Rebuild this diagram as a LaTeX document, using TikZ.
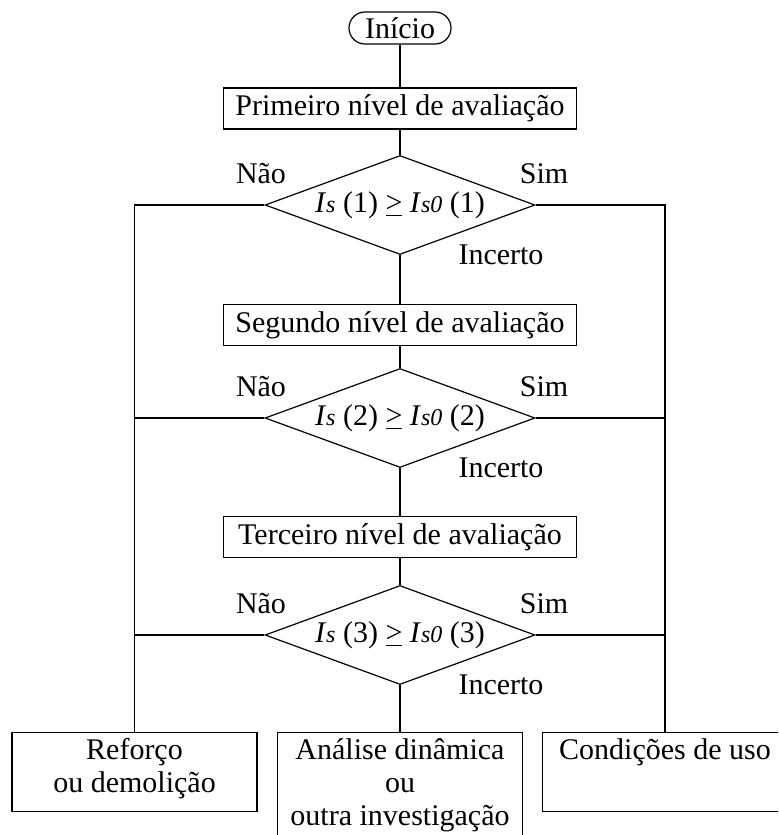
\documentclass[tikz,border=0pt]{standalone}
\usepackage{fontspec}
\setmainfont{Liberation Serif}
\usetikzlibrary{shapes.geometric,positioning}

\newcommand{\smallit}[1]{{\fontsize{12}{12}\selectfont\itshape #1}}
\newcommand{\cond}[1]{\textit{I}\smallit{s}\ (#1)\ \underline{>}\ \textit{I}\smallit{s0}\ (#1)}
\newcommand{\topbox}[2]{\parbox[t][#1][t]{116.5pt}{\centering #2}}

\tikzset{
  base/.style={draw, line width=0.6pt, font=\fontsize{15}{16.5}\selectfont},
  startbox/.style={base, rounded corners=8pt, minimum width=51pt,
    minimum height=16pt, inner sep=0pt},
  levelbox/.style={base, minimum width=176.5pt, minimum height=20.5pt, inner sep=0pt},
  decision/.style={base, diamond, aspect=2.7, minimum width=135pt,
    minimum height=49.5pt, inner sep=0pt},
  endbox/.style={base, anchor=north, inner sep=3pt},
  answer/.style={font=\fontsize{15}{16.5}\selectfont, inner sep=0pt},
  link/.style={line width=0.6pt}
}

\begin{document}
\begin{tikzpicture}[x=0.5pt, y=-0.5pt]
  \clip (0,0) rectangle (778,835);

  \node[startbox] (start) at (400,28) {Início};

  % one level of evaluation and its test
  \foreach \n/\word/\yl/\yd in {1/Primeiro/108.5/205, 2/Segundo/325/418, 3/Terceiro/537/635}{
    \node[levelbox] (level\n) at (400,\yl) {\word\ nível de avaliação};
    \node[decision] (dec\n) at (400,\yd) {\cond{\n}};
    \node[answer] (no\n) at ([shift={(-139,-31)}]dec\n.center) {Não};
    \node[answer] (yes\n) at ([shift={(144,-31)}]dec\n.center) {Sim};
    \node[answer] (unsure\n) at ([shift={(101,50)}]dec\n.center) {Incerto};
  }

  % outcomes
  \node[endbox] (redo) at (134.5,732) {\topbox{33.5pt}{Reforço\\ou demolição}};
  \node[endbox] (more) at (400,732) {\topbox{60pt}{Análise dinâmica\\ou\\outra investigação}};
  \node[endbox] (ok) at (665,732) {\topbox{33.5pt}{Condições de uso}};

  \draw[link] (start) -- (level1);
  \foreach \n in {1,2,3}
    \draw[link] (level\n) -- (dec\n);
  \draw[link] (dec1) -- (level2);
  \draw[link] (dec2) -- (level3);
  \draw[link] (dec3) -- (more);

  \draw[link] (dec1.west) -| (redo.north);
  \draw[link] (dec2.west) -- (dec2.west -| redo.north);
  \draw[link] (dec3.west) -- (dec3.west -| redo.north);
  \draw[link] (dec1.east) -| (ok.north);
  \draw[link] (dec2.east) -- (dec2.east -| ok.north);
  \draw[link] (dec3.east) -- (dec3.east -| ok.north);
\end{tikzpicture}
\end{document}
